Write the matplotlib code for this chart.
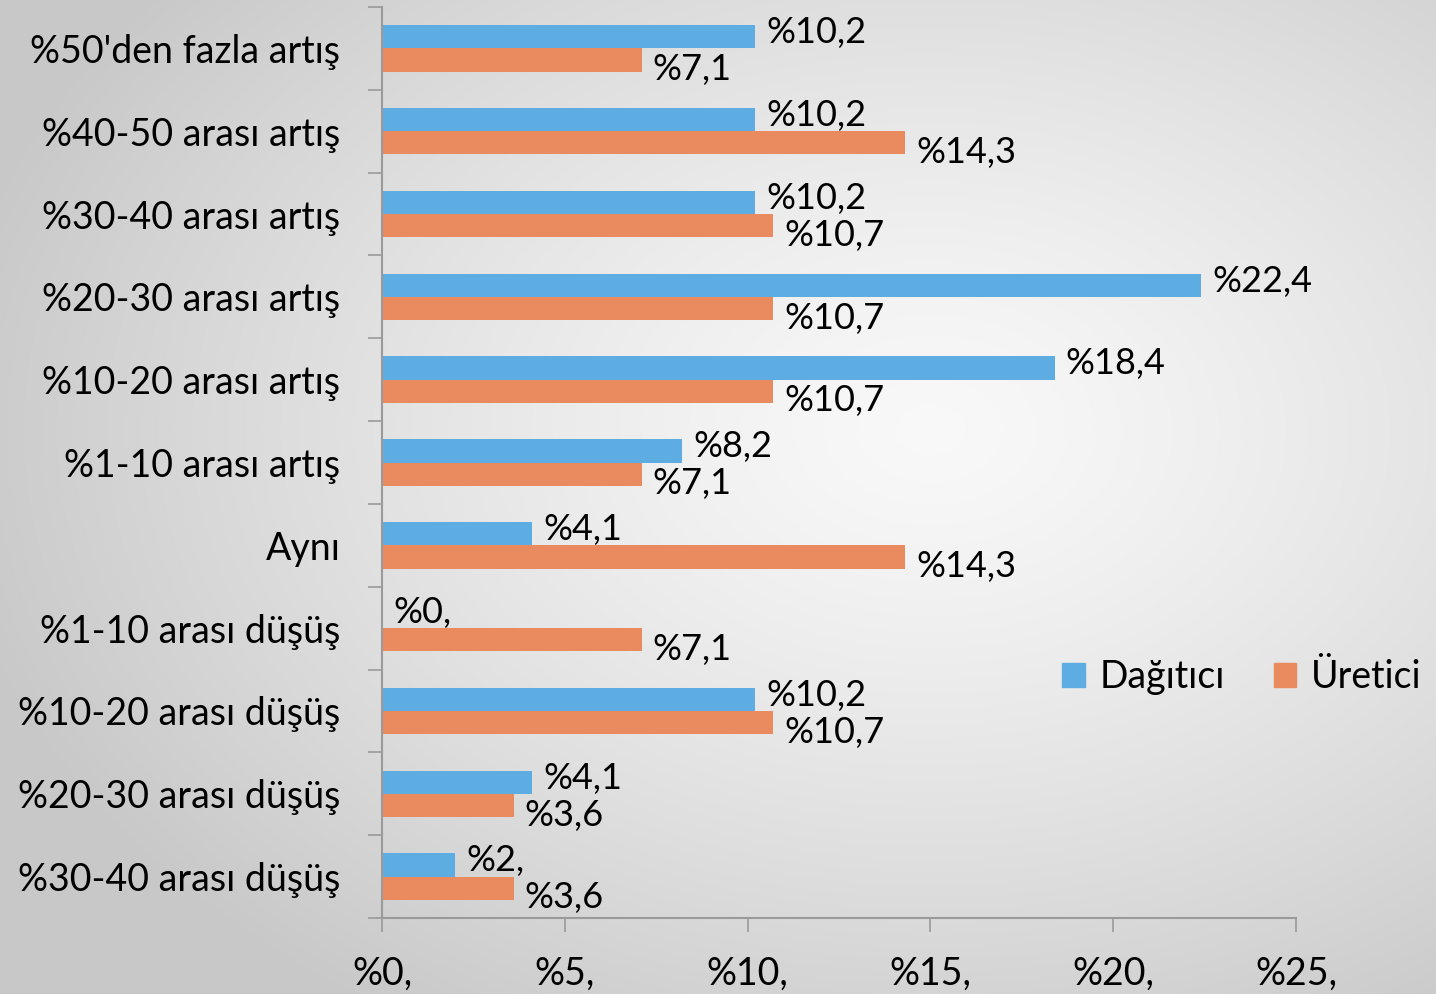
import numpy as np
import matplotlib
matplotlib.use("Agg")
import matplotlib.pyplot as plt
from matplotlib.patches import Patch

plt.rcParams['font.family'] = ['Lato', 'DejaVu Sans']

categories = [
    "%50'den fazla artış",
    "%40-50 arası artış",
    "%30-40 arası artış",
    "%20-30 arası artış",
    "%10-20 arası artış",
    "%1-10 arası artış",
    "Aynı",
    "%1-10 arası düşüş",
    "%10-20 arası düşüş",
    "%20-30 arası düşüş",
    "%30-40 arası düşüş",
]
dagitici = [10.2, 10.2, 10.2, 22.4, 18.4, 8.2, 4.1, 0.0, 10.2, 4.1, 2.0]
uretici = [7.1, 14.3, 10.7, 10.7, 10.7, 7.1, 14.3, 7.1, 10.7, 3.6, 3.6]
xticks = [0, 5, 10, 15, 20, 25]

BLUE = "#5DADE2"
ORANGE = "#E98A5F"
AXIS = "#9a9a9a"
FS = 27


def fmt(v):
    if float(v).is_integer():
        return f"%{int(v)},"
    return "%" + f"{v:.1f}".replace(".", ",")


fig = plt.figure(figsize=(14.36, 9.94), dpi=100)

# radial background gradient
bg = fig.add_axes([0, 0, 1, 1], zorder=-10)
h, w = 994, 1436
yy, xx = np.mgrid[0:h, 0:w]
d = np.sqrt(((xx - 930) / 1000.0) ** 2 + ((yy - 430) / 700.0) ** 2)
d = np.clip(d, 0, 1)
shade = 0.975 - 0.19 * d ** 1.3
bg.imshow(np.dstack([shade] * 3), aspect="auto", extent=[0, 1, 0, 1])
bg.axis("off")

ax = fig.add_axes([382 / w, 1 - 918 / h, (1296 - 382) / w, (918 - 7) / h])
ax.set_facecolor("none")

y = np.arange(len(categories))
bh = 0.28
ax.barh(y - bh / 2, dagitici, height=bh, color=BLUE, label="Dağıtıcı")
ax.barh(y + bh / 2, uretici, height=bh, color=ORANGE, label="Üretici")

for yi, v in zip(y, dagitici):
    ax.annotate(fmt(v), (v, yi - bh / 2), xytext=(8, 3), textcoords="offset points",
                va="center", ha="left", fontsize=26)
for yi, v in zip(y, uretici):
    ax.annotate(fmt(v), (v, yi + bh / 2), xytext=(8, -7), textcoords="offset points",
                va="center", ha="left", fontsize=26)

ax.set_xlim(0, 25)
ax.set_ylim(len(categories) - 0.5, -0.5)
ax.set_xticks(xticks)
ax.set_xticklabels([fmt(t) for t in xticks], fontsize=FS)

ax.set_yticks(y)
ax.set_yticklabels(categories, fontsize=FS)
ax.set_yticks(np.arange(len(categories) + 1) - 0.5, minor=True)
ax.tick_params(axis="y", which="major", length=0, pad=30)
ax.tick_params(axis="y", which="minor", length=10, color=AXIS, width=1.2)
ax.tick_params(axis="x", length=10, color=AXIS, width=1.2, pad=17)

for s in ["top", "right"]:
    ax.spines[s].set_visible(False)
for s in ["left", "bottom"]:
    ax.spines[s].set_color(AXIS)
    ax.spines[s].set_linewidth(1.5)

handles = [Patch(color=BLUE, label="Dağıtıcı"), Patch(color=ORANGE, label="Üretici")]
fig.legend(handles=handles, loc="center left", bbox_to_anchor=(1062 / w, 1 - 677 / h),
           ncol=2, frameon=False, fontsize=FS, handlelength=0.6, handleheight=0.6,
           handletextpad=0.4, columnspacing=1.3, borderaxespad=0, borderpad=0)

fig.savefig("out.png", dpi=100)
